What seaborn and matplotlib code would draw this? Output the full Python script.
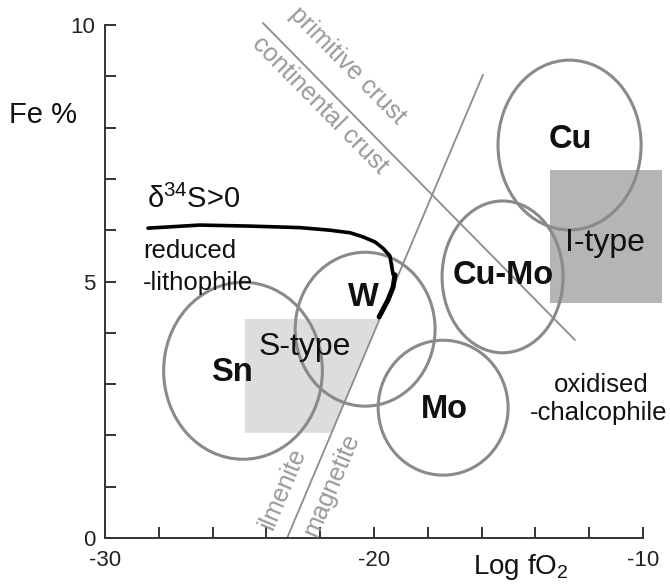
import numpy as np
import pandas as pd
import matplotlib
matplotlib.use("Agg")
import matplotlib.pyplot as plt
from matplotlib.patches import Ellipse, Rectangle, Polygon
import seaborn as sns

# ---------------- data ----------------
# ore-association fields (ellipses): centre x, centre y, width, height (data units)
field_names = ["Sn", "W", "Mo", "Cu-Mo", "Cu"]
field_cx = [-24.87, -20.33, -17.43, -15.22, -12.73]
field_cy = [3.26, 4.07, 2.54, 5.09, 7.66]
field_w = [5.9, 5.2, 4.83, 4.5, 5.32]
field_h = [3.45, 3.0, 2.63, 2.96, 3.31]
field_label_x = [-25.28, -20.41, -17.40, -15.20, -12.71]
field_label_y = [3.22, 4.68, 2.51, 5.11, 7.76]

# granite type boxes
stype_left, stype_bottom, stype_top = -24.8, 2.05, 4.27
itype_x = [-13.46, -9.29]
itype_y = [4.58, 7.17]

# buffer lines
ilm_mag_x = [-23.23, -15.95]
ilm_mag_y = [0.0, 9.03]
crust_x = [-24.13, -12.53]
crust_y = [10.04, 3.86]

# delta34S > 0 boundary curve
d34s_x = [-28.40, -26.47, -24.61, -22.75, -21.64, -20.89, -20.41, -19.96,
          -19.67, -19.41, -19.29, -19.22, -19.29, -19.48, -19.81]
d34s_y = [6.04, 6.10, 6.08, 6.05, 6.00, 5.95, 5.87, 5.77,
          5.65, 5.50, 5.38, 5.13, 4.89, 4.64, 4.31]
d34s_thick_from = 12  # index where the curve gets bolder

xticks_major = [-30, -20, -10]
yticks_major = [0, 5, 10]

# ---------------- style ----------------
sns.set_theme(style="ticks")
plt.rcParams["font.family"] = ["Liberation Sans", "DejaVu Sans"]
plt.rcParams["mathtext.fontset"] = "custom"
plt.rcParams["mathtext.rm"] = "Liberation Sans"
plt.rcParams["axes.unicode_minus"] = False

circle_col = "#8a8a8a"
line_col = "#8c8c8c"
label_grey = "#9a9a9a"
axis_col = "#333333"
text_col = "#111111"

fig = plt.figure(figsize=(6.7, 5.84), dpi=100)
ax = fig.add_axes([105 / 670, 46 / 584, 538 / 670, 513 / 584])
ax.set_xlim(-30, -10)
ax.set_ylim(0, 10)

# boxes
def line_x_at(y):
    return ilm_mag_x[0] + (y - ilm_mag_y[0]) * (ilm_mag_x[1] - ilm_mag_x[0]) / (ilm_mag_y[1] - ilm_mag_y[0])

stype_poly = [(stype_left, stype_bottom), (line_x_at(stype_bottom), stype_bottom),
              (line_x_at(stype_top), stype_top), (stype_left, stype_top)]
ax.add_patch(Polygon(stype_poly, closed=True, facecolor="#dddddd", edgecolor="none", zorder=1))
ax.add_patch(Rectangle((itype_x[0], itype_y[0]), itype_x[1] - itype_x[0], itype_y[1] - itype_y[0],
                       facecolor="#b5b5b5", edgecolor="none", zorder=1, clip_on=False))

# buffer lines
sns.lineplot(x=ilm_mag_x, y=ilm_mag_y, ax=ax, color=line_col, lw=1.3, sort=False, zorder=2)
sns.lineplot(x=crust_x, y=crust_y, ax=ax, color=line_col, lw=1.3, sort=False, zorder=2)
for ln in ax.lines:
    ln.set_clip_on(False)

# ellipses
for cx, cy, w, h in zip(field_cx, field_cy, field_w, field_h):
    ax.add_patch(Ellipse((cx, cy), w, h, facecolor="none", edgecolor=circle_col, lw=2.2, zorder=3))

# d34S curve
curve = pd.DataFrame({"x": d34s_x, "y": d34s_y})
sns.lineplot(data=curve.iloc[:d34s_thick_from + 1], x="x", y="y", ax=ax, sort=False,
             color="black", lw=2.6, zorder=4)
sns.lineplot(data=curve.iloc[d34s_thick_from - 1:], x="x", y="y", ax=ax, sort=False,
             color="black", lw=3.6, zorder=4)

# field labels
for name, lx, ly in zip(field_names, field_label_x, field_label_y):
    ax.text(lx, ly, name, ha="center", va="center", fontsize=23.5, fontweight="bold",
            color=text_col, zorder=5)

ax.text(-22.57, 3.72, "S-type", ha="center", va="center", fontsize=23, color=text_col, zorder=5)
ax.text(-11.41, 5.75, "I-type", ha="center", va="center", fontsize=23, color=text_col, zorder=5)

ax.text(-28.44, 6.43, "δ$^{34}$S>0", ha="left", va="baseline", fontsize=21, color=text_col, zorder=5)
ax.text(-28.59, 5.46, "reduced", ha="left", va="baseline", fontsize=18.5, color=text_col, zorder=5)
ax.text(-28.59, 4.83, "-lithophile", ha="left", va="baseline", fontsize=18.5, color=text_col, zorder=5)
ax.text(-11.56, 2.98, "oxidised", ha="center", va="center", fontsize=18.5, color=text_col, zorder=5)
ax.text(-11.64, 2.44, "-chalcophile", ha="center", va="center", fontsize=18.5, color=text_col, zorder=5)

# rotated labels for buffer lines (angle in screen space)
def screen_angle(xs, ys):
    p = ax.transData.transform(np.column_stack([xs, ys]))
    return np.degrees(np.arctan2(p[1, 1] - p[0, 1], p[1, 0] - p[0, 0]))

ang_crust = screen_angle(crust_x, crust_y)
ang_im = screen_angle(ilm_mag_x, ilm_mag_y)
ax.text(-21.0, 9.22, "primitive crust", rotation=ang_crust, rotation_mode="anchor",
        ha="center", va="center", fontsize=18, color=label_grey, zorder=5)
ax.text(-22.0, 8.44, "continental crust", rotation=ang_crust, rotation_mode="anchor",
        ha="center", va="center", fontsize=18, color=label_grey, zorder=5)
ax.text(-23.38, 0.97, "ilmenite", rotation=ang_im, rotation_mode="anchor",
        ha="center", va="center", fontsize=18, color=label_grey, zorder=5)
ax.text(-21.56, 1.03, "magnetite", rotation=ang_im, rotation_mode="anchor",
        ha="center", va="center", fontsize=18, color=label_grey, zorder=5)

# axes
sns.despine(ax=ax)
for s in ["left", "bottom"]:
    ax.spines[s].set_color(axis_col)
    ax.spines[s].set_linewidth(1.4)
ax.set_xticks(xticks_major)
ax.set_yticks(yticks_major)
ax.set_xticks(np.arange(-30, -9, 2), minor=True)
ax.set_yticks(np.arange(0, 11, 1), minor=True)
ax.tick_params(which="both", direction="in", length=8, width=1.4, color=axis_col,
               labelsize=16, labelcolor="#222222")
ax.tick_params(axis="y", which="both", pad=7)
ax.tick_params(axis="x", which="both", pad=9)

ax.set_xlabel(r"Log fO$_2$", fontsize=20, va="center", color=text_col)
ax.xaxis.set_label_coords(0.773, -0.057)
ax.set_ylabel("Fe %", fontsize=21, rotation=0, va="center", ha="center", color=text_col)
ax.yaxis.set_label_coords(-0.115, 0.825)

fig.savefig("out.png", dpi=100)
